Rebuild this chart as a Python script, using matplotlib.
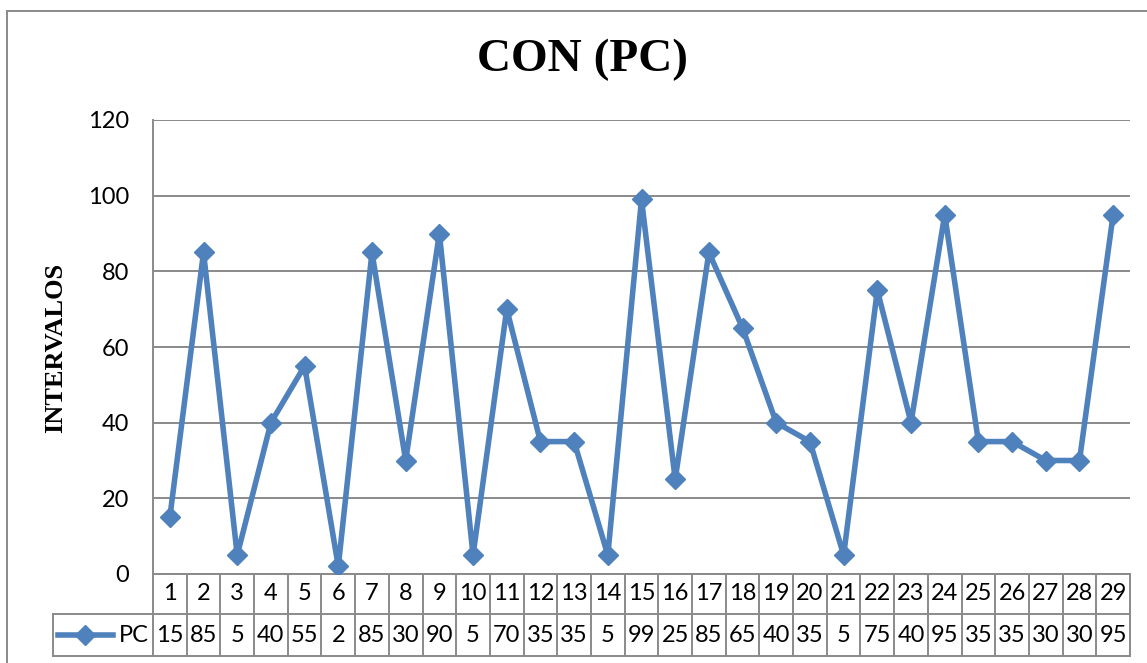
import matplotlib
matplotlib.use("Agg")
import matplotlib.pyplot as plt
from matplotlib.patches import Rectangle
from matplotlib.lines import Line2D
import matplotlib.transforms as mtransforms

# data
intervals = list(range(1, 30))
pc = [15, 85, 5, 40, 55, 2, 85, 30, 90, 5, 70, 35, 35, 5, 99, 25, 85, 65,
      40, 35, 5, 75, 40, 95, 35, 35, 30, 30, 95]
series_name = "PC"
title = "CON (PC)"
ylabel = "INTERVALOS"
yticks = [0, 20, 40, 60, 80, 100, 120]

blue = "#4F81BD"
gray = "#8A8A8A"
sans = ["Lato", "DejaVu Sans"]
serif = ["Liberation Serif", "DejaVu Serif"]
fs = 17

fig = plt.figure(figsize=(11.47, 6.63), dpi=100)
ax = fig.add_axes([153 / 1147, 89 / 663, 977 / 1147, 454 / 663])

# outer chart frame
fig.patches.append(Rectangle((7 / 1147, -0.1), 1.2, 1 - 11 / 663 + 0.1,
                             transform=fig.transFigure, fill=False,
                             edgecolor=gray, lw=1.4))

ax.plot(intervals, pc, color=blue, lw=4, marker="D", ms=10,
        markerfacecolor=blue, markeredgecolor=blue, zorder=3)

ax.set_xlim(0.5, len(intervals) + 0.5)
ax.set_ylim(0, 120)
ax.set_yticks(yticks)
ax.set_yticklabels([str(v) for v in yticks], fontsize=fs, family=sans)
ax.tick_params(axis="y", length=0, pad=17)
ax.set_xticks([])
ax.grid(axis="y", color=gray, lw=1.4)
ax.set_axisbelow(True)
for side in ["top", "right"]:
    ax.spines[side].set_visible(False)
for side in ["left", "bottom"]:
    ax.spines[side].set_color(gray)
    ax.spines[side].set_linewidth(1.4)

fig.text(583 / 1147, 1 - 60 / 663, title, fontsize=34, fontweight="bold",
         family=serif, ha="center", va="center")
fig.text(56 / 1147, 1 - 348 / 663, ylabel, fontsize=19, fontweight="bold",
         family=serif, rotation=90, ha="center", va="center")

# data table under the axis
trans = mtransforms.blended_transform_factory(ax.transData, ax.transAxes)
r1 = -40 / 454
r2 = -82 / 454
leg_left = (53 - 153) / 977
kw = dict(color=gray, lw=1.4, clip_on=False)
ax.add_line(Line2D([0, 1], [r1, r1], transform=ax.transAxes, **kw))
ax.add_line(Line2D([leg_left, 0], [r1, r1], transform=ax.transAxes, **kw))
ax.add_line(Line2D([leg_left, 1], [r2, r2], transform=ax.transAxes, **kw))
ax.add_line(Line2D([leg_left, leg_left], [r1, r2], transform=ax.transAxes, **kw))
ax.add_line(Line2D([0, 0], [0, r2], transform=ax.transAxes, **kw))
for i, v in zip(intervals, pc):
    ax.add_line(Line2D([i + 0.5, i + 0.5], [0, r2], transform=trans, **kw))
    ax.text(i, r1 / 2, str(i), transform=trans, ha="center", va="center",
            fontsize=fs, family=sans)
    ax.text(i, (r1 + r2) / 2, str(v), transform=trans, ha="center",
            va="center", fontsize=fs, family=sans)

# legend key inside the table
ym = (r1 + r2) / 2
ax.add_line(Line2D([(58 - 153) / 977, (113 - 153) / 977], [ym, ym],
                   transform=ax.transAxes, color=blue, lw=4, clip_on=False))
ax.add_line(Line2D([(85 - 153) / 977], [ym], transform=ax.transAxes,
                   marker="D", ms=10, color=blue, clip_on=False))
ax.text(-4 / 977, ym, series_name, transform=ax.transAxes, ha="right",
        va="center", fontsize=fs, family=sans)

fig.savefig("out.png", dpi=100)
